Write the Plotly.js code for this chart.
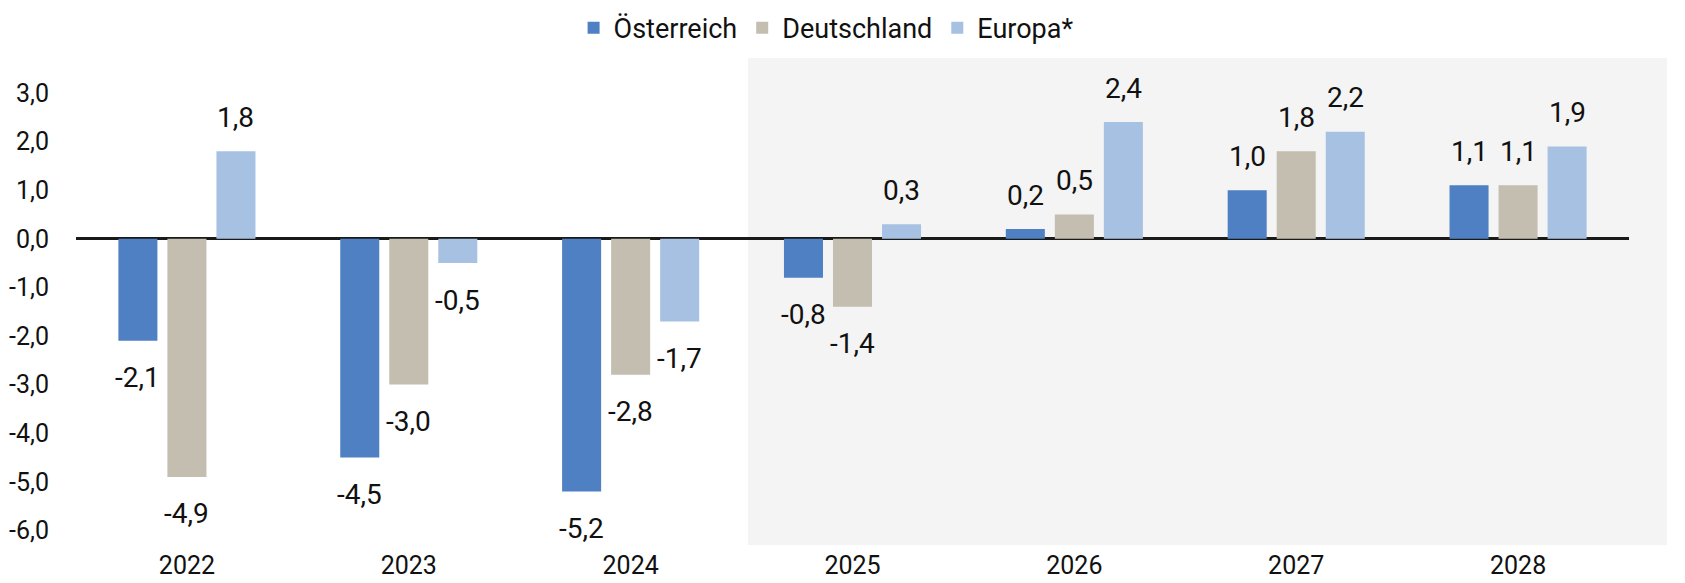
<!DOCTYPE html>
<html>
<head>
<meta charset="utf-8">
<script src="https://cdn.plot.ly/plotly-3.0.1.min.js"></script>
<style>
  html, body { margin: 0; padding: 0; background: #ffffff; }
  #chart { width: 1685px; height: 583px; }
</style>
</head>
<body>
<div id="chart"></div>
<script>
const years = ['2022', '2023', '2024', '2025', '2026', '2027', '2028'];
const oesterreich = [-2.1, -4.5, -5.2, -0.8, 0.2, 1.0, 1.1];
const deutschland = [-4.9, -3.0, -2.8, -1.4, 0.5, 1.8, 1.1];
const europa = [1.8, -0.5, -1.7, 0.3, 2.4, 2.2, 1.9];
const seriesNames = ['Österreich', 'Deutschland', 'Europa*'];
const yTickValues = [-6, -5, -4, -3, -2, -1, 0, 1, 2, 3];
const yTickLabels = ['-6,0', '-5,0', '-4,0', '-3,0', '-2,0', '-1,0', '0,0', '1,0', '2,0', '3,0'];

const colors = ['#4E80C3', '#C4BEB1', '#A7C1E3'];
const FONT = 'Roboto, "Liberation Sans", sans-serif';
const BARGAP = 0.337;
const BARGROUPGAP = 0.204;

const seriesValues = [oesterreich, deutschland, europa];
const fmt = v => v.toFixed(1).replace('.', ',');

const traces = seriesValues.map((vals, k) => ({
  type: 'bar',
  name: seriesNames[k],
  x: years,
  y: vals,
  marker: { color: colors[k] },
  hoverinfo: 'skip'
}));

const slot = (1 - BARGAP) / seriesValues.length;
const annotations = [];
seriesValues.forEach((vals, k) => {
  vals.forEach((v, i) => {
    annotations.push({
      x: i + (k - (seriesValues.length - 1) / 2) * slot,
      y: v,
      xref: 'x', yref: 'y',
      text: fmt(v),
      showarrow: false,
      xanchor: 'center',
      yanchor: 'middle',
      yshift: v >= 0 ? 34 : -37,
      font: { family: FONT, size: 28, color: '#111111' }
    });
  });
});

// plot area spans y = 5 .. 545 px; panel (grey) starts at 57 px
const layout = {
  width: 1685,
  height: 583,
  margin: { l: 76, r: 56, t: 5, b: 38 },
  paper_bgcolor: '#ffffff',
  plot_bgcolor: 'rgba(0,0,0,0)',
  barmode: 'group',
  bargap: BARGAP,
  bargroupgap: BARGROUPGAP,
  showlegend: true,
  legend: {
    orientation: 'h',
    x: 0.483, xanchor: 'center',
    y: 0.957, yanchor: 'middle',
    bgcolor: 'rgba(0,0,0,0)',
    font: { family: FONT, size: 27, color: '#111111' },
    traceorder: 'normal',
    itemwidth: 30
  },
  xaxis: {
    type: 'category',
    range: [-0.5, 6.5],
    showgrid: false,
    showline: false,
    ticks: '',
    tickfont: { family: FONT, size: 25, color: '#111111' },
    ticklabelstandoff: 3,
    fixedrange: true
  },
  yaxis: {
    range: [-6.30, 4.788],
    tickvals: yTickValues,
    ticktext: yTickLabels,
    showgrid: false,
    showline: false,
    ticks: '',
    zeroline: true,
    zerolinecolor: '#1a1a1a',
    zerolinewidth: 3,
    tickfont: { family: FONT, size: 25, color: '#111111' },
    ticklabelstandoff: 26,
    fixedrange: true
  },
  shapes: [{
    type: 'rect',
    xref: 'paper', yref: 'paper',
    x0: 0.4327, x1: 1.0245, y0: 0, y1: 0.9037,
    fillcolor: '#F4F4F4',
    line: { width: 0 },
    layer: 'below'
  }],
  annotations: annotations
};

Plotly.newPlot('chart', traces, layout, { displayModeBar: false, staticPlot: true });
</script>
</body>
</html>
